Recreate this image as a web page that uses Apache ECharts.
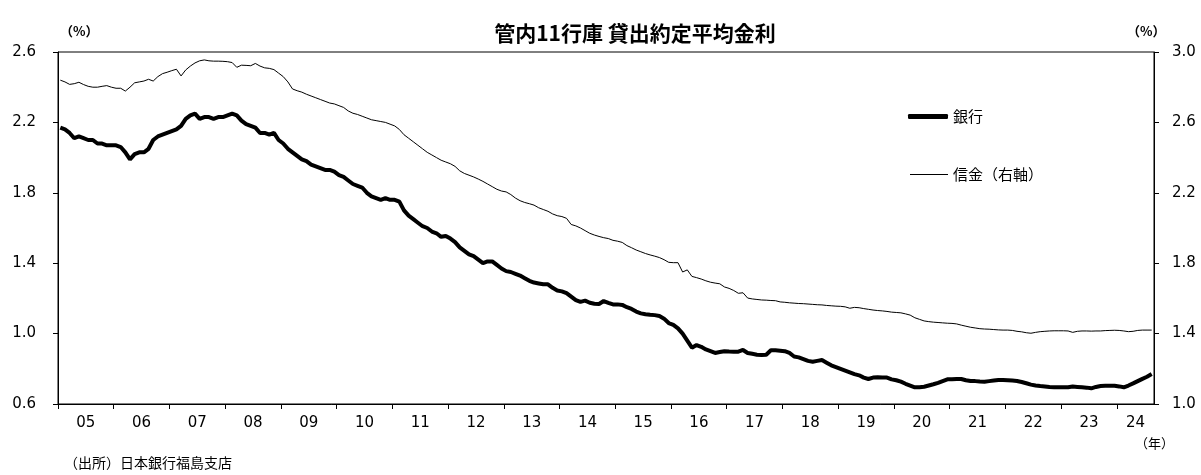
<!DOCTYPE html>
<html>
<head>
<meta charset="utf-8">
<script src="https://cdn.jsdelivr.net/npm/echarts@6/dist/echarts.min.js"></script>
<style>html,body{margin:0;padding:0;background:#fff}#c{width:1201px;height:475px}</style>
</head>
<body>
<div id="c"></div>
<script>
// Year tick labels (category years), data monthly from 2005-01 to 2024-08
const yearLabels = ['05','06','07','08','09','10','11','12','13','14','15','16','17','18','19','20','21','22','23','24'];
const monthsInYear = [12,12,12,12,12,12,12,12,12,12,12,12,12,12,12,12,12,12,12,8];
const seriesNames = ['銀行', '信金（右軸）'];

// 銀行 (left axis, %)
const bank = [
  2.17, 2.16, 2.14, 2.11, 2.12, 2.11, 2.10, 2.10, 2.08, 2.08, 2.07, 2.07,
  2.07, 2.06, 2.03, 1.99, 2.02, 2.03, 2.03, 2.05, 2.10, 2.12, 2.13, 2.14,
  2.15, 2.16, 2.18, 2.22, 2.24, 2.25, 2.22, 2.23, 2.23, 2.22, 2.23, 2.23,
  2.24, 2.25, 2.24, 2.21, 2.19, 2.18, 2.17, 2.14, 2.14, 2.13, 2.14, 2.10,
  2.08, 2.05, 2.03, 2.01, 1.99, 1.98, 1.96, 1.95, 1.94, 1.93, 1.93, 1.92,
  1.90, 1.89, 1.87, 1.85, 1.84, 1.83, 1.80, 1.78, 1.77, 1.76, 1.77, 1.76,
  1.76, 1.75, 1.70, 1.67, 1.65, 1.63, 1.61, 1.60, 1.58, 1.57, 1.55, 1.555,
  1.54, 1.52, 1.49, 1.47, 1.45, 1.44, 1.42, 1.40, 1.41, 1.41, 1.39, 1.37,
  1.355, 1.35, 1.34, 1.33, 1.315, 1.30, 1.29, 1.285, 1.28, 1.28, 1.26, 1.245,
  1.24, 1.23, 1.21, 1.19, 1.18, 1.187, 1.175, 1.17, 1.168, 1.185, 1.175, 1.166,
  1.166, 1.163, 1.15, 1.14, 1.125, 1.115, 1.11, 1.107, 1.105, 1.10, 1.085, 1.06,
  1.05, 1.03, 1.00, 0.96, 0.92, 0.935, 0.925, 0.91, 0.90, 0.89, 0.895, 0.90,
  0.898, 0.897, 0.897, 0.907, 0.89, 0.885, 0.88, 0.878, 0.88, 0.905, 0.905, 0.903,
  0.90, 0.89, 0.87, 0.865, 0.855, 0.845, 0.84, 0.845, 0.85, 0.835, 0.82, 0.81,
  0.80, 0.79, 0.78, 0.77, 0.763, 0.75, 0.742, 0.75, 0.752, 0.75, 0.75, 0.74,
  0.735, 0.727, 0.715, 0.705, 0.695, 0.695, 0.698, 0.705, 0.712, 0.72, 0.73, 0.74,
  0.74, 0.742, 0.742, 0.735, 0.731, 0.73, 0.728, 0.727, 0.73, 0.733, 0.736, 0.736,
  0.735, 0.733, 0.731, 0.725, 0.718, 0.71, 0.705, 0.702, 0.70, 0.697, 0.695, 0.695,
  0.695, 0.695, 0.699, 0.697, 0.695, 0.693, 0.689, 0.697, 0.702, 0.703, 0.704, 0.704,
  0.70, 0.695, 0.705, 0.717, 0.73, 0.743, 0.755, 0.77
];

// 信金 (right axis, %)
const shinkin = [
  2.84, 2.83, 2.816, 2.82, 2.828, 2.815, 2.805, 2.80, 2.80, 2.805, 2.809, 2.80,
  2.794, 2.794, 2.778, 2.80, 2.825, 2.83, 2.835, 2.845, 2.835, 2.86, 2.877, 2.885,
  2.894, 2.902, 2.864, 2.898, 2.92, 2.938, 2.95, 2.955, 2.95, 2.948, 2.948, 2.947,
  2.945, 2.94, 2.913, 2.925, 2.924, 2.922, 2.935, 2.92, 2.91, 2.907, 2.90, 2.88,
  2.86, 2.83, 2.79, 2.78, 2.772, 2.76, 2.75, 2.74, 2.73, 2.72, 2.71, 2.705,
  2.695, 2.685, 2.665, 2.652, 2.645, 2.635, 2.625, 2.615, 2.61, 2.605, 2.60, 2.59,
  2.58, 2.56, 2.53, 2.51, 2.49, 2.47, 2.45, 2.43, 2.415, 2.40, 2.385, 2.375,
  2.365, 2.35, 2.325, 2.31, 2.30, 2.29, 2.278, 2.265, 2.25, 2.235, 2.22, 2.21,
  2.205, 2.19, 2.17, 2.155, 2.145, 2.138, 2.13, 2.115, 2.105, 2.095, 2.08, 2.07,
  2.065, 2.055, 2.02, 2.012, 2.0, 1.985, 1.97, 1.96, 1.952, 1.945, 1.94, 1.93,
  1.925, 1.918, 1.90, 1.888, 1.875, 1.865, 1.855, 1.847, 1.84, 1.832, 1.82, 1.805,
  1.803, 1.803, 1.75, 1.762, 1.725, 1.718, 1.71, 1.70, 1.692, 1.687, 1.683, 1.665,
  1.657, 1.645, 1.629, 1.632, 1.602, 1.597, 1.594, 1.591, 1.59, 1.588, 1.587, 1.58,
  1.578, 1.575, 1.573, 1.571, 1.57, 1.568, 1.566, 1.564, 1.563, 1.56, 1.558, 1.556,
  1.555, 1.552, 1.544, 1.549, 1.547, 1.542, 1.538, 1.534, 1.531, 1.529, 1.526, 1.522,
  1.52, 1.518, 1.512, 1.505, 1.49, 1.481, 1.472, 1.468, 1.465, 1.463, 1.461, 1.459,
  1.458, 1.455, 1.448, 1.442, 1.436, 1.432, 1.428, 1.426, 1.425, 1.423, 1.421, 1.42,
  1.42, 1.418, 1.413, 1.41, 1.405, 1.402, 1.407, 1.411, 1.413, 1.415, 1.416, 1.416,
  1.416, 1.415, 1.407, 1.413, 1.415, 1.415, 1.414, 1.415, 1.415, 1.417, 1.418, 1.419,
  1.418, 1.415, 1.411, 1.413, 1.418, 1.42, 1.42, 1.42
];

// build axis helpers from the arrays
const total = bank.length;
const tickVals = [];
const labelVals = [];
const labelMap = {};
let acc = 0;
yearLabels.forEach((y, k) => {
  tickVals.push(acc);
  const mid = acc + monthsInYear[k] / 2;
  labelVals.push(mid);
  labelMap[mid] = y;
  acc += monthsInYear[k];
});
const bankData = bank.map((v, i) => [i + 0.5, v]);
const shinkinData = shinkin.map((v, i) => [i + 0.5, v]);

const FONT_NUM = 'DejaVu Sans';
const FONT_JP = 'Noto Sans CJK JP';
const legendText = {fontFamily: FONT_JP, fontSize: 15, color: '#000'};

const chart = echarts.init(document.getElementById('c'), null, {renderer: 'canvas'});
chart.setOption({
  animation: false,
  backgroundColor: '#fff',
  title: {
    text: '管内11行庫 貸出約定平均金利',
    left: 630, top: 18, textAlign: 'center',
    textStyle: {fontFamily: FONT_JP, fontSize: 21, fontWeight: 'bold', color: '#000'}
  },
  grid: {left: 58, right: 47, top: 52, bottom: 71, show: true, borderColor: '#000', borderWidth: 1},
  legend: [
    {
      left: 908, top: 109, padding: 0, itemWidth: 40, itemHeight: 5, itemGap: 4,
      textStyle: legendText,
      data: [{name: seriesNames[0], icon: 'roundRect', itemStyle: {color: '#000'}}]
    },
    {
      left: 910, top: 167, padding: 0, itemWidth: 38, itemHeight: 1, itemGap: 4,
      textStyle: legendText,
      data: [{name: seriesNames[1], icon: 'rect', itemStyle: {color: '#000'}}]
    }
  ],
  xAxis: {
    type: 'value', min: 0, max: total,
    axisLine: {show: true, lineStyle: {color: '#000', width: 1}},
    axisTick: {show: true, customValues: tickVals, length: 5, lineStyle: {color: '#000'}},
    axisLabel: {customValues: labelVals, formatter: v => labelMap[v] || '', color: '#000', fontFamily: FONT_NUM, fontSize: 15, margin: 12},
    splitLine: {show: false}
  },
  yAxis: [
    {
      type: 'value', min: 0.6, max: 2.6, interval: 0.4, position: 'left',
      axisLine: {show: true, lineStyle: {color: '#000', width: 1}},
      axisTick: {show: true, length: 5, lineStyle: {color: '#000'}},
      axisLabel: {formatter: v => v.toFixed(1), color: '#000', fontFamily: FONT_NUM, fontSize: 15, margin: 22},
      splitLine: {show: false}
    },
    {
      type: 'value', min: 1.0, max: 3.0, interval: 0.4, position: 'right',
      axisLine: {show: true, lineStyle: {color: '#000', width: 1}},
      axisTick: {show: true, length: 5, lineStyle: {color: '#000'}},
      axisLabel: {formatter: v => v.toFixed(1), color: '#000', fontFamily: FONT_NUM, fontSize: 15, margin: 18},
      splitLine: {show: false}
    }
  ],
  graphic: [
    {type: 'text', left: 60, top: 25, style: {text: '（%）', fontFamily: FONT_JP, fontSize: 13, fontWeight: 'bold', fill: '#000'}},
    {type: 'text', left: 1127, top: 25, style: {text: '（%）', fontFamily: FONT_JP, fontSize: 13, fontWeight: 'bold', fill: '#000'}},
    {type: 'text', left: 1135, top: 437, style: {text: '（年）', fontFamily: FONT_JP, fontSize: 13, fill: '#000'}},
    {type: 'text', left: 64, top: 456, style: {text: '（出所）日本銀行福島支店', fontFamily: FONT_JP, fontSize: 14, fill: '#000'}}
  ],
  series: [
    {
      name: seriesNames[0], type: 'line', yAxisIndex: 0, data: bankData,
      showSymbol: false, symbol: 'none', smooth: false,
      lineStyle: {color: '#000', width: 4}, itemStyle: {color: '#000'}
    },
    {
      name: seriesNames[1], type: 'line', yAxisIndex: 1, data: shinkinData,
      showSymbol: false, symbol: 'none', smooth: false,
      lineStyle: {color: '#000', width: 1}, itemStyle: {color: '#000'}
    }
  ]
});
</script>
</body>
</html>
